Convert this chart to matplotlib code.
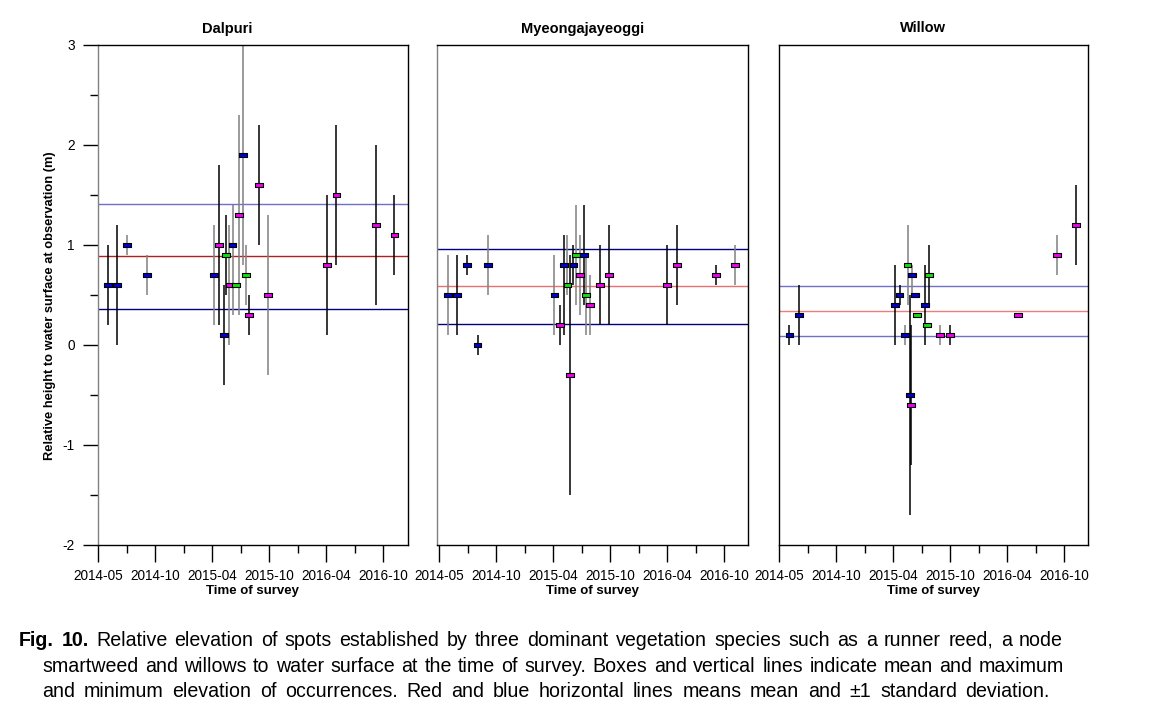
import matplotlib
matplotlib.use("Agg")
import matplotlib.pyplot as plt

plt.rcParams['font.family'] = ['Liberation Sans', 'DejaVu Sans']
plt.rcParams['axes.unicode_minus'] = False

# x positions are days since 2014-05-01, ticks every 180 days
tick_days = [0, 180, 360, 540, 720, 900]
minor_days = [90, 270, 450, 630, 810]
tick_labels = ['2014-05', '2014-10', '2015-04', '2015-10', '2016-04', '2016-10']
y_major = [-2, -1, 0, 1, 2, 3]
y_minor = [-1.5, -0.5, 0.5, 1.5, 2.5]

panel_titles = ['Dalpuri', 'Myeongajayeoggi', 'Willow']

# Dalpuri
dal_day = [30, 60, 91, 153, 365, 382, 398, 404, 414, 424, 436, 445, 458, 467,
           477, 508, 537, 723, 752, 877, 935]
dal_mean = [0.6, 0.6, 1.0, 0.7, 0.7, 1.0, 0.1, 0.9, 0.6, 1.0, 0.6, 1.3, 1.9,
            0.7, 0.3, 1.6, 0.5, 0.8, 1.5, 1.2, 1.1]
dal_min = [0.2, 0.0, 0.9, 0.5, 0.2, 0.2, -0.4, 0.5, 0.0, 0.3, 0.6, 0.3, 0.8,
           0.4, 0.1, 1.0, -0.3, 0.1, 0.8, 0.4, 0.7]
dal_max = [1.0, 1.2, 1.1, 0.9, 1.2, 1.8, 0.6, 1.3, 1.2, 1.4, 0.6, 2.3, 3.0,
           1.0, 0.5, 2.2, 1.3, 1.5, 2.2, 2.0, 1.5]
dal_kind = ['B', 'B', 'B', 'B', 'B', 'M', 'B', 'G', 'M', 'B', 'G', 'M', 'B',
            'G', 'M', 'M', 'M', 'M', 'M', 'M', 'M']
dal_grey = [0, 0, 1, 1, 1, 0, 0, 0, 1, 1, 1, 1, 1, 1, 0, 0, 1, 0, 0, 0, 0]

# Myeongajayeoggi
mye_day = [28, 57, 88, 121, 153, 364, 382, 395, 405, 413, 424, 433, 444, 457,
           464, 476, 507, 537, 720, 752, 875, 935]
mye_mean = [0.5, 0.5, 0.8, 0.0, 0.8, 0.5, 0.2, 0.8, 0.6, -0.3, 0.8, 0.9, 0.7,
            0.9, 0.5, 0.4, 0.6, 0.7, 0.6, 0.8, 0.7, 0.8]
mye_min = [0.1, 0.1, 0.7, -0.1, 0.5, 0.1, 0.0, 0.1, 0.5, -1.5, 0.6, 0.4, 0.3,
           0.4, 0.1, 0.1, 0.2, 0.2, 0.2, 0.4, 0.6, 0.6]
mye_max = [0.9, 0.9, 0.9, 0.1, 1.1, 0.9, 0.4, 1.1, 1.1, 0.9, 1.0, 1.4, 1.1,
           1.4, 0.9, 0.7, 1.0, 1.2, 1.0, 1.2, 0.8, 1.0]
mye_kind = ['B', 'B', 'B', 'B', 'B', 'B', 'M', 'B', 'G', 'M', 'B', 'G', 'M',
            'B', 'G', 'M', 'M', 'M', 'M', 'M', 'M', 'M']
mye_grey = [1, 0, 0, 0, 1, 1, 0, 0, 1, 0, 0, 1, 1, 0, 1, 1, 0, 0, 0, 0, 0, 1]

# Willow
wil_day = [32, 61, 366, 380, 398, 405, 414, 416, 420, 428, 435, 459, 467, 474,
           508, 539, 753, 878, 937]
wil_mean = [0.1, 0.3, 0.4, 0.5, 0.1, 0.8, -0.5, -0.6, 0.7, 0.5, 0.3, 0.4, 0.2,
            0.7, 0.1, 0.1, 0.3, 0.9, 1.2]
wil_min = [0.0, 0.0, 0.0, 0.4, 0.0, 0.4, -1.7, -1.2, 0.5, 0.5, 0.3, 0.0, 0.2,
           0.4, 0.0, 0.0, 0.3, 0.7, 0.8]
wil_max = [0.2, 0.6, 0.8, 0.6, 0.2, 1.2, 0.5, 0.2, 0.8, 0.5, 0.3, 0.8, 0.2,
           1.0, 0.2, 0.2, 0.3, 1.1, 1.6]
wil_kind = ['B', 'B', 'B', 'B', 'B', 'G', 'B', 'M', 'B', 'B', 'G', 'B', 'G',
            'G', 'M', 'M', 'M', 'M', 'M']
wil_grey = [0, 0, 0, 0, 1, 1, 0, 0, 1, 0, 0, 0, 0, 0, 1, 0, 0, 1, 0]

# mean and standard deviation of all occurrences (horizontal lines)
site_mean = [0.887, 0.587, 0.337]
site_sd = [0.525, 0.375, 0.25]

caption = [
    "Fig. 10. Relative elevation of spots established by three dominant vegetation "
    "species such as a runner reed, a node",
    "smartweed and willows to water surface at the time of survey. Boxes and "
    "vertical lines indicate mean and maximum",
    "and minimum elevation of occurrences. Red and blue horizontal lines means "
    "mean and \u00b11 standard deviation.",
]

box_colors = {'B': '#0000d0', 'M': '#f000f0', 'G': '#10e010'}
box = [(-1.6, -1), (1.6, -1), (1.6, 1), (-1.6, 1), (-1.6, -1)]

W, H = 1151, 712
fig = plt.figure(figsize=(W / 100, H / 100), dpi=100)

axes_px = [(98.3, 309.4), (437.3, 311), (779.3, 309)]
xlims = [(0, 977), (-6, 976), (0, 976)]
title_x = [0.416, 0.468, 0.465]
hline_colors = [('#7070c8', '#b02020', '#000080'),
                ('#000080', '#e87070', '#000080'),
                ('#7070c8', '#e88080', '#7070c8')]
left_spine = ['#808080', '#808080', 'black']
major_col = [['k'] * 6,
             ['k', 'k', 'k', 'k', 'k', '#808080'],
             ['k', 'k', 'k', '#808080', '#808080', 'k']]
minor_col = [['#808080', '#808080', 'k', 'k', 'k'],
             ['k', 'k', 'k', '#808080', '#808080'],
             ['k', '#808080', '#808080', '#808080', '#808080']]

panels = [
    (dal_day, dal_mean, dal_min, dal_max, dal_kind, dal_grey),
    (mye_day, mye_mean, mye_min, mye_max, mye_kind, mye_grey),
    (wil_day, wil_mean, wil_min, wil_max, wil_kind, wil_grey),
]

for i, (day, mean, lo, hi, kind, grey) in enumerate(panels):
    left, width = axes_px[i]
    ax = fig.add_axes([left / W, 1 - 545 / H, width / W, 500 / H])
    ax.set_xlim(*xlims[i])
    ax.set_ylim(-2, 3)

    m, s = site_mean[i], site_sd[i]
    c_hi, c_mid, c_lo = hline_colors[i]
    ax.axhline(m + s, color=c_hi, lw=1.0, zorder=1)
    ax.axhline(m, color=c_mid, lw=1.0, zorder=1)
    ax.axhline(m - s, color=c_lo, lw=1.0, zorder=1)

    line_cols = ['#808080' if g else 'black' for g in grey]
    ax.vlines(day, lo, hi, colors=line_cols, lw=1.1, zorder=2)
    ax.scatter(day, mean, marker=box, s=5.6 ** 2,
               c=[box_colors[k] for k in kind], edgecolors='black',
               linewidths=0.8, zorder=3)

    ax.set_xticks(tick_days)
    ax.set_xticks(minor_days, minor=True)
    ax.set_xticklabels(tick_labels)
    ax.tick_params(axis='x', which='major', length=12, width=1.0,
                   labelsize=9.8, pad=5.5)
    ax.tick_params(axis='x', which='minor', length=5.5, width=1.0)
    for t, c in zip(ax.xaxis.get_major_ticks(), major_col[i]):
        t.tick1line.set_color(c)
    for t, c in zip(ax.xaxis.get_minor_ticks(), minor_col[i]):
        t.tick1line.set_color(c)

    if i == 0:
        ax.set_yticks(y_major)
        ax.set_yticks(y_minor, minor=True)
        ax.tick_params(axis='y', which='major', length=11, width=1.0,
                       labelsize=9.8, pad=6)
        ax.tick_params(axis='y', which='minor', length=6, width=1.0)
    else:
        ax.set_yticks([])
        ax.set_yticks([], minor=True)

    for sp in ax.spines.values():
        sp.set_linewidth(1.0)
    ax.spines['left'].set_color(left_spine[i])

    ax.text(title_x[i], 1.033, panel_titles[i], transform=ax.transAxes,
            ha='center', va='center', fontsize=10.5, fontweight='bold')
    ax.set_xlabel('Time of survey', fontsize=9.5, fontweight='bold',
                  labelpad=1)

fig.text(50 / W, 1 - 306 / H,
         'Relative height to water surface at observation (m)',
         rotation=90, ha='center', va='center', fontsize=9.3,
         fontweight='bold')

# justified caption, word by word
renderer = fig.canvas.get_renderer()
line_span = [(19, 1063), (42, 1064), (42, 1050)]
baselines = [645.7, 671.7, 697.3]
for n, text in enumerate(caption):
    words = text.split(' ')
    items = []
    for j, w in enumerate(words):
        bold = n == 0 and j < 2
        items.append(fig.text(0, 1 - baselines[n] / H, w, fontsize=14.1,
                              fontweight='bold' if bold else 'normal',
                              va='baseline', ha='left'))
    widths = [t.get_window_extent(renderer).width for t in items]
    x0, x1 = line_span[n]
    gap = (x1 - x0 - sum(widths)) / (len(words) - 1)
    x = x0
    for t, w in zip(items, widths):
        t.set_x(x / W)
        x += w + gap

fig.savefig('out.png', dpi=100)
